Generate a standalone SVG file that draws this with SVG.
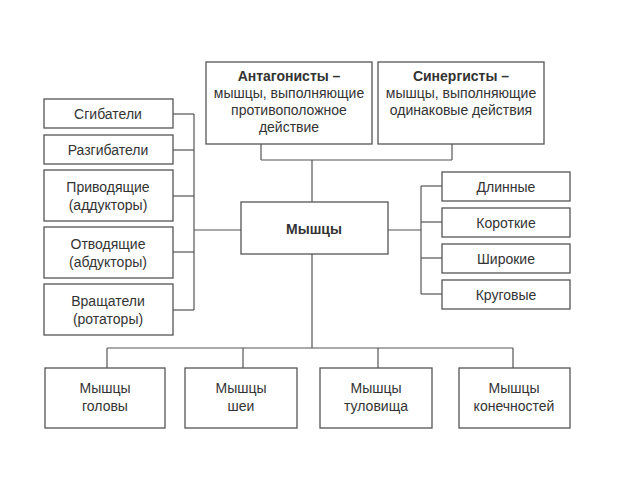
<svg xmlns="http://www.w3.org/2000/svg" width="640" height="480" viewBox="0 0 640 480">
<style>
rect{fill:#fff;stroke:#555;stroke-width:1.3}
.c line{stroke:#555;stroke-width:1.2}
text{font-family:"Liberation Sans",Arial,sans-serif;font-size:14px;fill:#333;text-anchor:middle}
.b{font-weight:bold}
</style>
<rect x="0" y="0" width="640" height="480" style="stroke:none"/>
<g class="c">
<line x1="261" y1="144" x2="261" y2="160"/><line x1="452" y1="144" x2="452" y2="160"/>
<line x1="261" y1="160" x2="452" y2="160"/><line x1="312" y1="160" x2="312" y2="202"/>
<line x1="194" y1="114" x2="194" y2="310"/>
<line x1="173" y1="114" x2="194" y2="114"/><line x1="173" y1="150" x2="194" y2="150"/>
<line x1="173" y1="196" x2="194" y2="196"/><line x1="173" y1="252" x2="194" y2="252"/>
<line x1="173" y1="310" x2="194" y2="310"/><line x1="194" y1="230" x2="241" y2="230"/>
<line x1="421" y1="186" x2="421" y2="294"/>
<line x1="421" y1="186" x2="442" y2="186"/><line x1="421" y1="222" x2="442" y2="222"/>
<line x1="421" y1="258" x2="442" y2="258"/><line x1="421" y1="294" x2="442" y2="294"/>
<line x1="388" y1="230" x2="421" y2="230"/>
<line x1="312" y1="254" x2="312" y2="348"/><line x1="107" y1="348" x2="513" y2="348"/>
<line x1="107" y1="348" x2="107" y2="368"/><line x1="243" y1="348" x2="243" y2="368"/>
<line x1="378" y1="348" x2="378" y2="368"/><line x1="513" y1="348" x2="513" y2="368"/>
</g>
<g id="antag"><rect x="206" y="62" width="166" height="82"/><text x="289" y="81" class="b">Антагонисты –</text><text x="289" y="98">мышцы, выполняющие</text><text x="289" y="115">противоположное</text><text x="289" y="132">действие</text></g>
<g id="sinerg"><rect x="378" y="62" width="166" height="82"/><text x="461" y="81" class="b">Синергисты –</text><text x="461" y="98">мышцы, выполняющие</text><text x="461" y="115">одинаковые действия</text></g>
<g id="main"><rect x="241" y="202" width="147" height="52"/><text x="314" y="234" class="b">Мышцы</text></g>
<g id="l1"><rect x="44" y="99" width="129" height="29"/><text x="108" y="119">Сгибатели</text></g>
<g id="l2"><rect x="44" y="135" width="129" height="29"/><text x="108" y="155">Разгибатели</text></g>
<g id="l3"><rect x="44" y="170" width="129" height="51"/><text x="108" y="192">Приводящие</text><text x="108" y="210">(аддукторы)</text></g>
<g id="l4"><rect x="44" y="227" width="129" height="51"/><text x="108" y="249">Отводящие</text><text x="108" y="267">(абдукторы)</text></g>
<g id="l5"><rect x="44" y="284" width="129" height="51"/><text x="108" y="306">Вращатели</text><text x="108" y="324">(ротаторы)</text></g>
<g id="r1"><rect x="442" y="172" width="128" height="29"/><text x="506" y="192">Длинные</text></g>
<g id="r2"><rect x="442" y="208" width="128" height="29"/><text x="506" y="228">Короткие</text></g>
<g id="r3"><rect x="442" y="244" width="128" height="29"/><text x="506" y="264">Широкие</text></g>
<g id="r4"><rect x="442" y="280" width="128" height="29"/><text x="506" y="300">Круговые</text></g>
<g id="b1"><rect x="45" y="368" width="120" height="60"/><text x="105" y="393">Мышцы</text><text x="105" y="411">головы</text></g>
<g id="b2"><rect x="185" y="368" width="112" height="60"/><text x="241" y="393">Мышцы</text><text x="241" y="411">шеи</text></g>
<g id="b3"><rect x="320" y="368" width="112" height="60"/><text x="376" y="393">Мышцы</text><text x="376" y="411">туловища</text></g>
<g id="b4"><rect x="459" y="368" width="111" height="60"/><text x="514" y="393">Мышцы</text><text x="514" y="411">конечностей</text></g>
</svg>
